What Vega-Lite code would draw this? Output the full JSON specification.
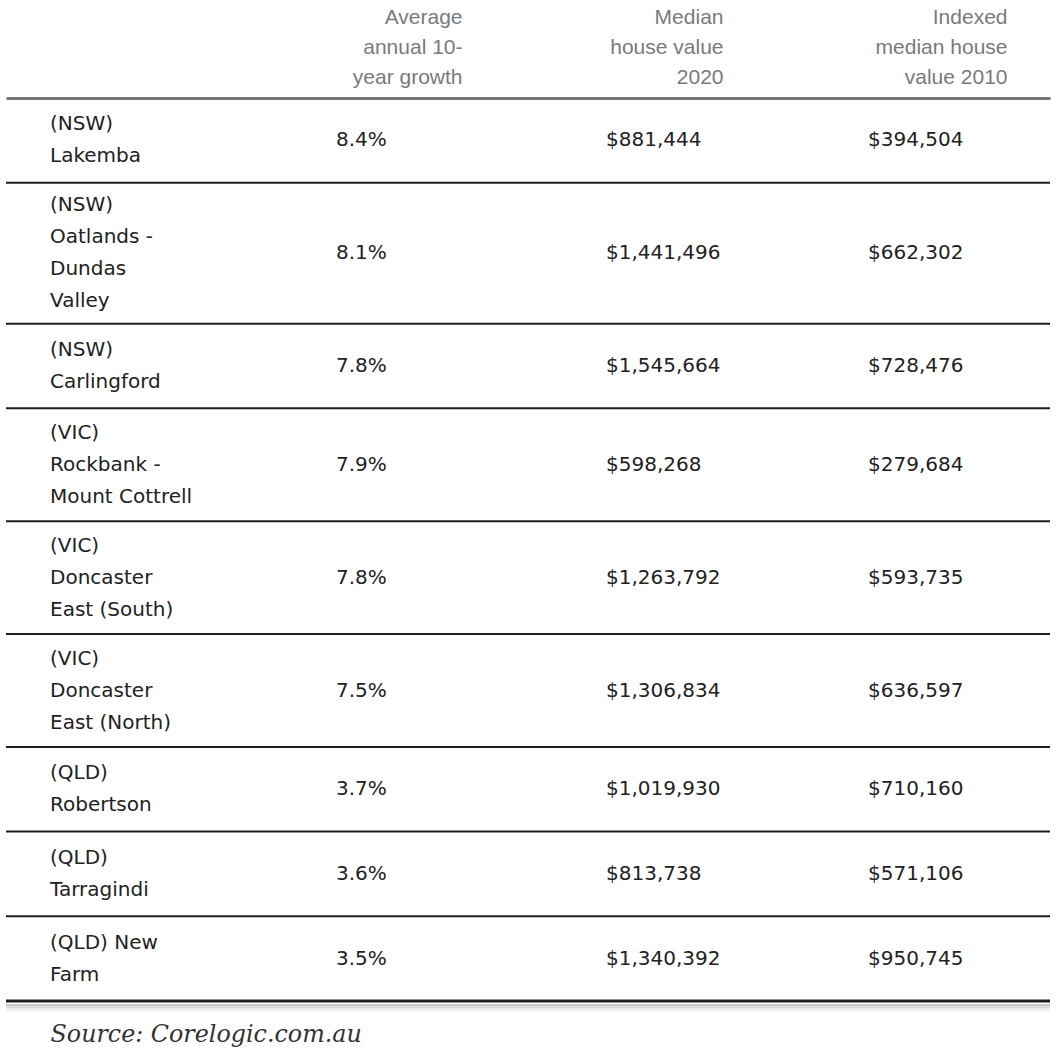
{
  "$schema": "https://vega.github.io/schema/vega-lite/v6.json",
  "width": 1044,
  "height": 917,
  "autosize": {"type": "none"},
  "padding": {"top": 98, "left": 6, "right": 6, "bottom": 39},
  "background": "white",
  "title": {
    "text": "Source: Corelogic.com.au",
    "orient": "bottom",
    "anchor": "start",
    "font": "DejaVu Serif",
    "fontStyle": "italic",
    "fontWeight": "normal",
    "fontSize": 23.8,
    "color": "#333333",
    "dx": 46,
    "offset": 20,
    "baseline": "middle"
  },
  "data": {
    "values": [
      {"suburb": ["(NSW)", "Lakemba"], "growth": 0.084, "value2020": 881444, "value2010": 394504},
      {"suburb": ["(NSW)", "Oatlands -", "Dundas", "Valley"], "growth": 0.081, "value2020": 1441496, "value2010": 662302},
      {"suburb": ["(NSW)", "Carlingford"], "growth": 0.078, "value2020": 1545664, "value2010": 728476},
      {"suburb": ["(VIC)", "Rockbank -", "Mount Cottrell"], "growth": 0.079, "value2020": 598268, "value2010": 279684},
      {"suburb": ["(VIC)", "Doncaster", "East (South)"], "growth": 0.078, "value2020": 1263792, "value2010": 593735},
      {"suburb": ["(VIC)", "Doncaster", "East (North)"], "growth": 0.075, "value2020": 1306834, "value2010": 636597},
      {"suburb": ["(QLD)", "Robertson"], "growth": 0.037, "value2020": 1019930, "value2010": 710160},
      {"suburb": ["(QLD)", "Tarragindi"], "growth": 0.036, "value2020": 813738, "value2010": 571106},
      {"suburb": ["(QLD) New", "Farm"], "growth": 0.035, "value2020": 1340392, "value2010": 950745}
    ]
  },
  "transform": [
    {"calculate": "length(datum.suburb)", "as": "nl"},
    {"calculate": "datum.nl + 1", "as": "h"},
    {"window": [{"op": "sum", "field": "h", "as": "bottom"}, {"op": "row_number", "as": "rank"}], "frame": [null, 0]},
    {"joinaggregate": [{"op": "count", "as": "n"}]},
    {"calculate": "datum.bottom - datum.h / 2", "as": "mid"},
    {"calculate": "datum.mid - (datum.nl - 1) * 0.5671", "as": "firstLine"}
  ],
  "layer": [
    {
      "transform": [{"filter": "datum.rank < datum.n"}],
      "mark": {"type": "rule", "color": "#1e1e1e", "strokeWidth": 2},
      "encoding": {
        "y": {"field": "bottom", "type": "quantitative", "scale": {"domain": [0, 32.5], "reverse": true, "nice": false, "zero": false}, "axis": null}
      }
    },
    {
      "transform": [{"filter": "datum.rank == datum.n"}],
      "mark": {"type": "rule", "color": "#888888", "strokeWidth": 2, "yOffset": 4, "opacity": 0.45},
      "encoding": {"y": {"field": "bottom", "type": "quantitative"}}
    },
    {
      "transform": [{"filter": "datum.rank == datum.n"}],
      "mark": {"type": "rule", "color": "#888888", "strokeWidth": 2, "yOffset": 6, "opacity": 0.3},
      "encoding": {"y": {"field": "bottom", "type": "quantitative"}}
    },
    {
      "transform": [{"filter": "datum.rank == datum.n"}],
      "mark": {"type": "rule", "color": "#888888", "strokeWidth": 2, "yOffset": 8, "opacity": 0.18},
      "encoding": {"y": {"field": "bottom", "type": "quantitative"}}
    },
    {
      "transform": [{"filter": "datum.rank == datum.n"}],
      "mark": {"type": "rule", "color": "#888888", "strokeWidth": 2, "yOffset": 10, "opacity": 0.08},
      "encoding": {"y": {"field": "bottom", "type": "quantitative"}}
    },
    {
      "transform": [{"filter": "datum.rank == datum.n"}],
      "mark": {"type": "rule", "color": "#1e1e1e", "strokeWidth": 3},
      "encoding": {"y": {"field": "bottom", "type": "quantitative"}}
    },
    {
      "mark": {"type": "text", "align": "left", "baseline": "middle", "font": "DejaVu Sans", "fontSize": 20, "lineHeight": 32, "color": "#222222", "dx": -86.5},
      "encoding": {
        "x": {"datum": "Suburb", "type": "nominal",
          "scale": {"domain": ["Suburb", "Average\nannual 10-\nyear growth", "Median\nhouse value\n2020", "Indexed\nmedian house\nvalue 2010"], "paddingInner": 0, "paddingOuter": 0},
          "axis": {"orient": "top", "title": null, "ticks": false, "tickSize": 0, "grid": false, "labelAngle": 0, "labelPadding": 81, "labelAlign": "right", "labelBaseline": "middle", "labelFont": "Liberation Sans", "labelFontSize": 21, "labelLineHeight": 30, "labelColor": "#7a7a7a", "labelLimit": 0, "labelOverlap": false, "labelFlush": false,
            "labelOffset": {"condition": {"test": "indexof(datum.value, '2010') >= 0", "value": 87.5}, "value": 64.5},
            "labelExpr": "datum.value == 'Suburb' ? '' : split(datum.value, '\\n')",
            "domainColor": "#777777", "domainWidth": 3}},
        "y": {"field": "firstLine", "type": "quantitative"},
        "text": {"field": "suburb", "type": "nominal"}
      }
    },
    {
      "mark": {"type": "text", "align": "left", "baseline": "middle", "font": "DejaVu Sans", "fontSize": 20, "color": "#222222", "dx": -61.5},
      "encoding": {
        "x": {"datum": "Average\nannual 10-\nyear growth", "type": "nominal"},
        "y": {"field": "mid", "type": "quantitative"},
        "text": {"field": "growth", "type": "quantitative", "format": ".1%"}
      }
    },
    {
      "mark": {"type": "text", "align": "left", "baseline": "middle", "font": "DejaVu Sans", "fontSize": 20, "color": "#222222", "dx": -52.5},
      "encoding": {
        "x": {"datum": "Median\nhouse value\n2020", "type": "nominal"},
        "y": {"field": "mid", "type": "quantitative"},
        "text": {"field": "value2020", "type": "quantitative", "format": "$,.0f"}
      }
    },
    {
      "mark": {"type": "text", "align": "left", "baseline": "middle", "font": "DejaVu Sans", "fontSize": 20, "color": "#222222", "dx": -51.5},
      "encoding": {
        "x": {"datum": "Indexed\nmedian house\nvalue 2010", "type": "nominal"},
        "y": {"field": "mid", "type": "quantitative"},
        "text": {"field": "value2010", "type": "quantitative", "format": "$,.0f"}
      }
    }
  ],
  "config": {"view": {"stroke": null}}
}
